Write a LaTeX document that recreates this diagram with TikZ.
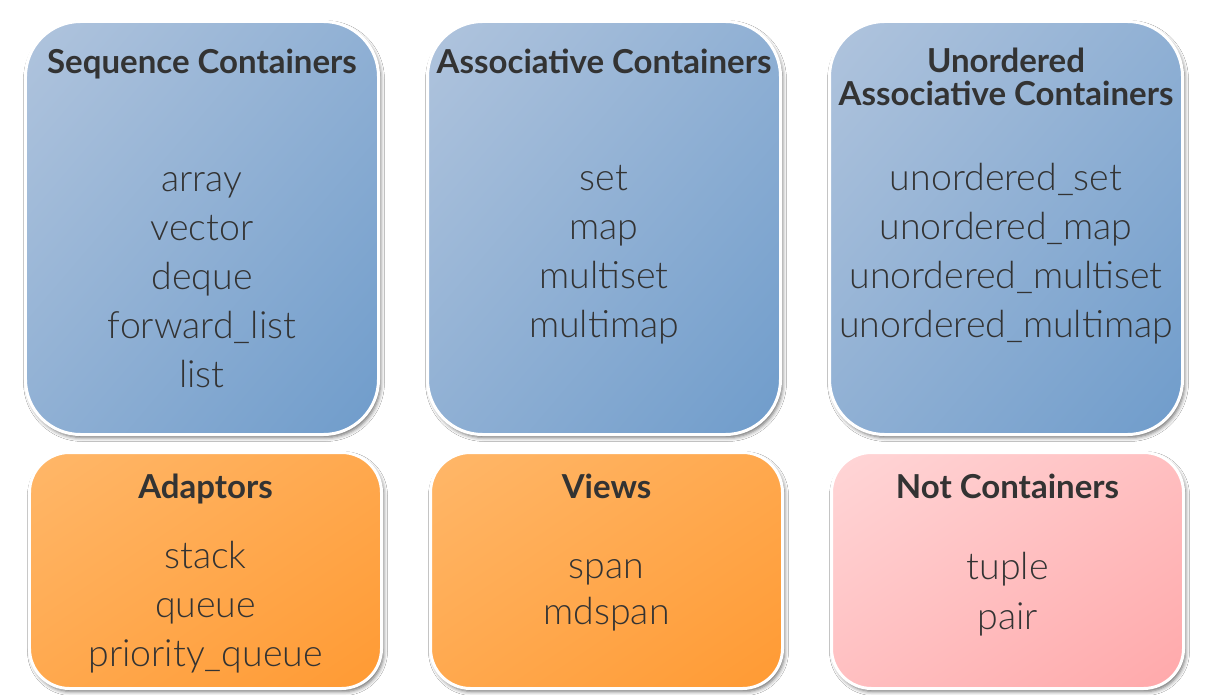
\documentclass[tikz,border=0pt]{standalone}
\usepackage{fontspec}
\setmainfont{Lato}
\newfontfamily\lightfont{Lato Light}
\usetikzlibrary{positioning, shadings, shadows.blur}
\definecolor{textgray}{HTML}{333333}
\definecolor{bluelight}{HTML}{B0C4DD}
\definecolor{bluedark}{HTML}{6F9CCB}
\definecolor{orangelight}{HTML}{FFB769}
\definecolor{orangedark}{HTML}{FF9A33}
\definecolor{pinklight}{HTML}{FFD6D7}
\definecolor{pinkdark}{HTML}{FFA8AA}

\begin{document}
\begin{tikzpicture}[
        x=1bp, y=-1bp,
        box/.style={rectangle, draw=white, line width=3bp, text=textgray,
            blur shadow={shadow xshift=2bp, shadow yshift=-3bp, shadow blur radius=4bp, shadow opacity=60}},
        tallbox/.style={box, rounded corners=55bp, minimum width=353bp, minimum height=413bp},
        shortbox/.style={box, rounded corners=40bp, minimum width=352bp, minimum height=236bp},
        title/.style={anchor=base, align=center, text=textgray, font=\bfseries\fontsize{33bp}{33bp}\selectfont},
        items/.style={anchor=base, align=center, text=textgray, font=\lightfont\fontsize{37.5bp}{49bp}\selectfont},
        node distance=46bp
    ]

    \tikzstyle{bluefill} = [upper left=bluelight, lower right=bluedark, upper right=bluelight!50!bluedark, lower left=bluelight!50!bluedark]
    \tikzstyle{orangefill} = [upper left=orangelight, lower right=orangedark, upper right=orangelight!50!orangedark, lower left=orangelight!50!orangedark]
    \tikzstyle{pinkfill} = [upper left=pinklight, lower right=pinkdark, upper right=pinklight!50!pinkdark, lower left=pinklight!50!pinkdark]

    \path[fill=white, use as bounding box] (0,0) rectangle (1211,695);

    % top row
    \node[tallbox, bluefill] (seq) at (202,228) {};
    \node[tallbox, bluefill, right=of seq] (assoc) {};
    \node[tallbox, bluefill, right=of assoc] (unord) {};

    % bottom row
    \node[shortbox, orangefill] (adapt) at (205.5,570.5) {};
    \node[shortbox, orangefill, right=of adapt] (views) {};
    \node[shortbox, pinkfill, right=of views] (notc) {};

    % titles (base = last line)
    \node[title] (seqtitle) at ([yshift=-54bp]seq.north) {Sequence Containers};
    \node[title] (assoctitle) at ([yshift=-54bp]assoc.north) {Associative Containers};
    \node[title] (unordtitle) at ([yshift=-86bp]unord.north) {Unordered\\Associative Containers};
    \node[title] (adapttitle) at ([yshift=-47bp]adapt.north) {Adaptors};
    \node[title] (viewstitle) at ([yshift=-47bp]views.north) {Views};
    \node[title] (notctitle) at ([yshift=-47bp]notc.north) {Not Containers};

    \node[items] (seqlist) at ([yshift=-367bp]seq.north) {array\\vector\\deque\\forward\_list\\list};
    \node[items] (assoclist) at ([yshift=-317bp]assoc.north) {set\\map\\multiset\\multimap};
    \node[items] (unordlist) at ([yshift=-317bp]unord.north) {unordered\_set\\unordered\_map\\unordered\_multiset\\unordered\_multimap};
    \node[items] (adaptlist) at ([yshift=-215bp]adapt.north) {stack\\queue\\priority\_queue};
    \node[items, font=\lightfont\fontsize{37.5bp}{46bp}\selectfont] (viewslist) at ([yshift=-173bp]views.north) {span\\mdspan};
    \node[items, font=\lightfont\fontsize{37.5bp}{50bp}\selectfont] (notclist) at ([yshift=-178bp]notc.north) {tuple\\pair};

\end{tikzpicture}
\end{document}
